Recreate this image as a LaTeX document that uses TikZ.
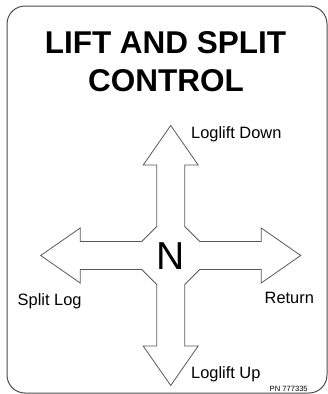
\documentclass[tikz,border=0pt]{standalone}
\usepackage{fontspec}
\setmainfont{Liberation Sans}
\begin{document}
\begin{tikzpicture}[x=1pt,y=-1pt,
  lbl/.style={inner sep=0pt,font=\fontsize{16.4}{18}\selectfont},
  ttl/.style={inner sep=0pt,font=\fontsize{31.5}{36}\selectfont\bfseries}]
\useasboundingbox (0,0) rectangle (328,394);
% frame
\draw[black!70,line width=1pt,rounded corners=18pt] (7,6) rectangle (327,393);
% title
\node[ttl,anchor=base] (t1) at (165.5,53.3) {LIFT AND SPLIT};
\node[ttl,anchor=base] (t2) at (166,91) {CONTROL};
% cross arrow
\begin{scope}[shift={(170.7,255.5)},y=1pt,x=1pt]
\draw[black!65,line width=0.8pt,line join=miter]
 (0,-130) -- (27.5,-90.5) -- (14,-90.5) -- (14,-29) -- (29,-14) -- (90.5,-14) -- (90.5,-27.5)
 -- (130,0) -- (90.5,27.5) -- (90.5,14) -- (29,14) -- (14,29) -- (14,90.5) -- (27.5,90.5)
 -- (0,130) -- (-27.5,90.5) -- (-14,90.5) -- (-14,29) -- (-29,14) -- (-90.5,14) -- (-90.5,27.5)
 -- (-130,0) -- (-90.5,-27.5) -- (-90.5,-14) -- (-29,-14) -- (-14,-29) -- (-14,-90.5) -- (-27.5,-90.5) -- cycle;
\end{scope}
\node[inner sep=0pt,anchor=base,font=\fontsize{39}{44}\selectfont] (n) at (170.5,269.5) {N};
% labels
\node[lbl,anchor=base west] (down) at (191,138.7) {Loglift Down};
\node[lbl,anchor=base west] (split) at (17.5,305) {Split Log};
\node[lbl,anchor=base west] (ret) at (264.5,303.3) {Return};
\node[lbl,anchor=base west] (up) at (191,378) {Loglift Up};
\node[inner sep=0pt,anchor=base west,font=\fontsize{7.6}{9}\selectfont] (pn) at (269.5,391.3) {PN 777335};
\end{tikzpicture}
\end{document}
